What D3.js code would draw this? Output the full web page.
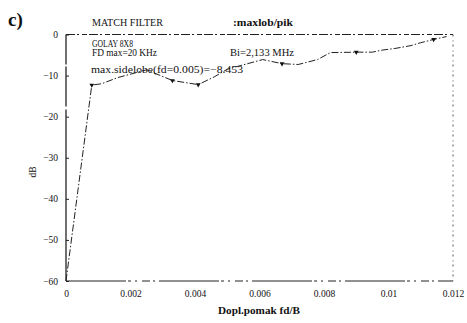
<!DOCTYPE html>
<html><head><meta charset="utf-8">
<script src="https://cdn.jsdelivr.net/npm/d3@7"></script>
<style>
html,body{margin:0;padding:0;background:#fff;}
svg{display:block;}
svg text{font-family:"Liberation Serif","DejaVu Serif",serif !important;fill:#111;}
</style></head>
<body>
<svg id="c" width="467" height="323" font-family="Liberation Serif"></svg>
<script>
// ---- data ----
const fdValues = [0, 0.0008, 0.0011, 0.0016, 0.0025, 0.0033, 0.0041, 0.0046, 0.005, 0.0061, 0.0067, 0.0072, 0.0078, 0.0082, 0.009, 0.0095, 0.0098, 0.0102, 0.0107, 0.011, 0.0114, 0.0118];
const dbValues = [-60, -12.3, -12, -10.5, -8.6, -11.2, -12.2, -10.3, -8.45, -6.1, -7.1, -7.3, -6.1, -4.4, -4.3, -4.3, -3.8, -3.4, -2.7, -2.0, -1.2, -0.5];
const markerIdx = [1, 5, 6, 10, 14, 20];
const xTicks = [0, 0.002, 0.004, 0.006, 0.008, 0.01, 0.012];
const xTickLabels = ["0", "0.002", "0.004", "0.006", "0.008", "0.01", "0.012"];
const yTicks = [0, -10, -20, -30, -40, -50, -60];
const yTickLabels = ["0", "\u221210", "\u221220", "\u221230", "\u221240", "\u221250", "\u221260"];

const svg = d3.select("#c");
const x = d3.scaleLinear().domain([0, 0.012]).range([66, 453]);
const y = d3.scaleLinear().domain([-60, 0]).range([281, 34.5]);

// frame
const dash = "9,2,2,3,5,2";
svg.append("line").attr("x1", x(0)).attr("x2", x(0.012)).attr("y1", y(0)).attr("y2", y(0))
  .attr("stroke", "#222").attr("stroke-width", 1).attr("stroke-dasharray", dash);
svg.append("line").attr("x1", x(0.012)).attr("x2", x(0.012)).attr("y1", y(0)).attr("y2", y(-60))
  .attr("stroke", "#555").attr("stroke-width", 1).attr("stroke-dasharray", "2,4,1,3");
svg.append("line").attr("x1", x(0)).attr("x2", x(0.012)).attr("y1", y(-60)).attr("y2", y(-60))
  .attr("stroke", "#222").attr("stroke-width", 1).attr("stroke-dasharray", "60,2,3,4,2,5,8,3,2,4");
svg.append("line").attr("x1", x(0)).attr("x2", x(0)).attr("y1", y(0)).attr("y2", y(-60))
  .attr("stroke", "#111").attr("stroke-width", 1.2).attr("stroke-dasharray", "30,2,40,3,180");

// y axis ticks + labels
const yAxis = d3.axisLeft(y).tickValues(yTicks).tickSize(-3).tickPadding(8)
  .tickFormat((d, i) => yTickLabels[i]);
const gy = svg.append("g").attr("transform", `translate(${x(0)},0)`).call(yAxis)
  .attr("font-family", "Liberation Serif");
gy.select(".domain").remove();
gy.selectAll("line").attr("stroke", "#222");
gy.selectAll("text").style("font-size", "9.5px").attr("fill", "#111");

// x axis labels
const xAxis = d3.axisBottom(x).tickValues(xTicks).tickSize(0).tickPadding(9)
  .tickFormat((d, i) => xTickLabels[i]);
const gx = svg.append("g").attr("transform", `translate(0,${y(-60)})`).call(xAxis)
  .attr("font-family", "Liberation Serif");
gx.select(".domain").remove();
gx.selectAll("text").style("font-size", "9.5px").attr("fill", "#111");

// data line
const pts = fdValues.map((v, i) => [v, dbValues[i]]);
svg.append("path").datum(pts)
  .attr("d", d3.line().x(d => x(d[0])).y(d => y(d[1])))
  .attr("fill", "none").attr("stroke", "#222").attr("stroke-width", 1)
  .attr("stroke-dasharray", "7,2,1.5,2");

// markers
svg.selectAll("path.mk").data(markerIdx).enter().append("path").attr("class", "mk")
  .attr("d", d3.symbol().type(d3.symbolTriangle).size(10))
  .attr("transform", i => `translate(${x(fdValues[i])},${y(dbValues[i])}) rotate(180)`)
  .attr("fill", "#111");

// texts
function txt(s, tx, ty, size, w, opts = {}) {
  const t = svg.append("text").attr("x", tx).attr("y", ty).text(s)
    .style("font-size", size + "px").style("font-weight", opts.bold ? "bold" : "normal");
  if (w) t.attr("textLength", w).attr("lengthAdjust", "spacingAndGlyphs");
  if (opts.anchor) t.attr("text-anchor", opts.anchor);
  return t;
}
txt("c)", 8, 26, 19, null, {bold: true});
txt("MATCH FILTER", 92, 26, 9.5, 71);
txt(":maxlob/pik", 233, 26, 10.5, 60, {bold: true});
txt("GOLAY 8X8", 92, 47, 9.5, 41);
txt("FD max=20 KHz", 92, 56, 9.5, 65);
txt("Bi=2,133 MHz", 230, 56, 9.5, 64);
txt("max.sidelobe(fd=0.005)=\u22128.453", 91, 73, 9.5, 152);
txt("Dopl.pomak fd/B", 259, 314, 9.5, 82, {anchor: "middle", bold: true});
svg.append("text").attr("transform", "translate(36,172) rotate(-90)")
  .attr("text-anchor", "middle").style("font-size", "9.5px").text("dB");
</script>
</body></html>
